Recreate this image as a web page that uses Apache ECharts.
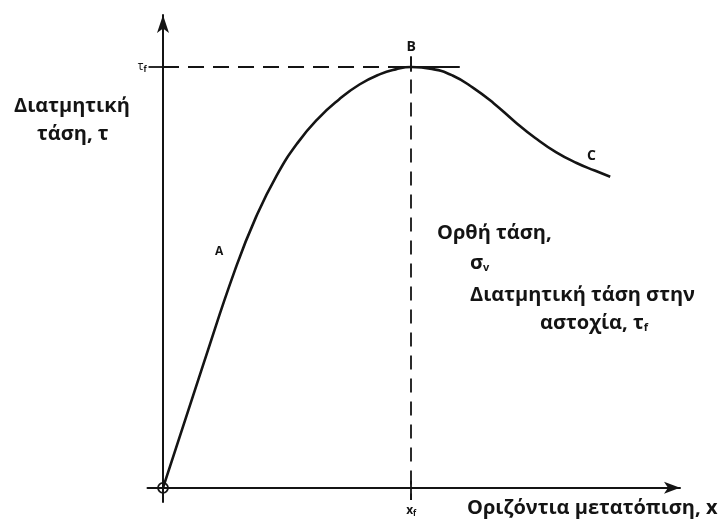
<!DOCTYPE html>
<html>
<head>
<meta charset="utf-8">
<script src="https://cdn.jsdelivr.net/npm/echarts@6/dist/echarts.min.js"></script>
<style>
  html, body { margin: 0; padding: 0; background: #fff; }
  #chart { width: 725px; height: 528px; }
</style>
</head>
<body>
<div id="chart"></div>
<script>
// Shear stress vs. horizontal displacement (direct shear test)
var displacement = [0, 8, 14, 18, 22, 26, 30, 34, 38, 42, 45, 48, 52, 56, 60, 64, 68, 72, 76, 80, 83.5, 86.5];
var shearStress  = [0, 26.8, 46.3, 57.3, 66.1, 72.9, 78.1, 82.1, 85.3, 87.5, 88.5, 89, 88.6, 87.2, 84.6, 81.3, 77.5, 74.0, 71.0, 68.7, 67.1, 65.8];
var xFailure = 48;     // x_f
var tauFailure = 89;   // τ_f
var dashEndX = 57.4;

var ink = '#141414';
var FONT = 'Open Sans';
var labelFont = 'bold 20px "Open Sans"';

var curve = displacement.map(function (x, i) { return [x, shearStress[i]]; });

var chart = echarts.init(document.getElementById('chart'), null, { renderer: 'canvas' });

chart.setOption({
  backgroundColor: '#ffffff',
  animation: false,
  grid: { left: 147.5, right: 45, top: 15, bottom: 26, containLabel: false },
  xAxis: {
    type: 'value', min: -3, max: 100,
    splitLine: { show: false },
    axisLine: { onZero: true, lineStyle: { color: ink, width: 2 }, symbol: ['none', 'arrow'], symbolSize: [9, 16] },
    axisTick: { show: false },
    axisLabel: {
      show: true, customValues: [xFailure], margin: 2,
      formatter: function () { return '{m|x}{s|f}'; },
      rich: {
        m: { fontFamily: FONT, fontSize: 12, color: ink, fontWeight: 'bold' },
        s: { fontFamily: FONT, fontSize: 8, color: ink, fontWeight: 'bold', verticalAlign: 'bottom', padding: [6, 0, 0, 0] }
      }
    }
  },
  yAxis: {
    type: 'value', min: -3, max: 100,
    splitLine: { show: false },
    axisLine: { onZero: true, lineStyle: { color: ink, width: 2 }, symbol: ['none', 'arrow'], symbolSize: [9, 18] },
    axisTick: { show: false },
    axisLabel: {
      show: true, customValues: [tauFailure], margin: 1,
      formatter: function () { return '{m|τ}{s|f}'; },
      rich: {
        m: { fontFamily: FONT, fontSize: 12, color: ink },
        s: { fontFamily: FONT, fontSize: 8, color: ink, fontWeight: 'bold', verticalAlign: 'bottom', padding: [6, 0, 0, 0] }
      }
    }
  },
  series: [
    {
      type: 'line',
      data: curve,
      smooth: 0.5,
      showSymbol: false,
      lineStyle: { color: ink, width: 2.6 },
      markLine: {
        silent: true, symbol: 'none', label: { show: false },
        data: [
          [ { coord: [0, tauFailure], lineStyle: { type: [16, 9], width: 1.8, color: ink } }, { coord: [dashEndX, tauFailure] } ],
          [ { coord: [45.5, tauFailure], lineStyle: { type: 'solid', width: 1.8, color: ink } }, { coord: [dashEndX, tauFailure] } ],
          [ { coord: [-2.8, tauFailure], lineStyle: { type: 'solid', width: 1.8, color: ink } }, { coord: [1.2, tauFailure] } ],
          [ { coord: [xFailure, 91.2], lineStyle: { type: [14, 9], width: 1.8, color: ink } }, { coord: [xFailure, -2.6] } ],
          [ { coord: [xFailure, 91.2], lineStyle: { type: 'solid', width: 1.8, color: ink } }, { coord: [xFailure, 88] } ],
          [ { coord: [xFailure, 1.5], lineStyle: { type: 'solid', width: 1.8, color: ink } }, { coord: [xFailure, -2.6] } ]
        ]
      },
      markPoint: {
        silent: true,
        data: [
          { coord: [xFailure, tauFailure], symbol: 'circle', symbolSize: 1, itemStyle: { color: 'transparent' },
            label: { show: true, formatter: 'B', position: 'top', distance: 12, fontFamily: FONT, fontWeight: 'bold', fontSize: 14, color: ink } },
          { coord: [0, 0], symbol: 'circle', symbolSize: 10, itemStyle: { color: 'transparent', borderColor: ink, borderWidth: 1.8 }, label: { show: false } }
        ]
      }
    }
  ],
  graphic: [
    { type: 'text', left: 14, top: 96, style: { text: 'Διατμητική', font: labelFont, fill: ink } },
    { type: 'text', left: 37, top: 124, style: { text: 'τάση, τ', font: labelFont, fill: ink } },
    { type: 'text', left: 215, top: 246, style: { text: 'A', font: 'bold 12px "Open Sans"', fill: ink } },
    { type: 'text', left: 587, top: 149, style: { text: 'C', font: 'bold 14px "Open Sans"', fill: ink } },
    { type: 'text', left: 437, top: 223, style: { text: 'Ορθή τάση,', font: labelFont, fill: ink } },
    { type: 'text', left: 470, top: 253, style: {
        text: '{m|σ}{s|v}',
        rich: {
          m: { fontFamily: FONT, fontWeight: 'bold', fontSize: 20, fill: ink },
          s: { fontFamily: FONT, fontWeight: 'bold', fontSize: 11, fill: ink, padding: [9, 0, 0, 0] }
        } } },
    { type: 'text', left: 470, top: 285, style: { text: 'Διατμητική τάση στην', font: labelFont, fill: ink } },
    { type: 'text', left: 540, top: 313, style: {
        text: '{m|αστοχία, τ}{s|f}',
        rich: {
          m: { fontFamily: FONT, fontWeight: 'bold', fontSize: 20, fill: ink },
          s: { fontFamily: FONT, fontWeight: 'bold', fontSize: 11, fill: ink, padding: [9, 0, 0, 0] }
        } } },
    { type: 'text', left: 467, top: 498, style: { text: 'Οριζόντια μετατόπιση, x', font: labelFont, fill: ink } }
  ]
});
</script>
</body>
</html>
